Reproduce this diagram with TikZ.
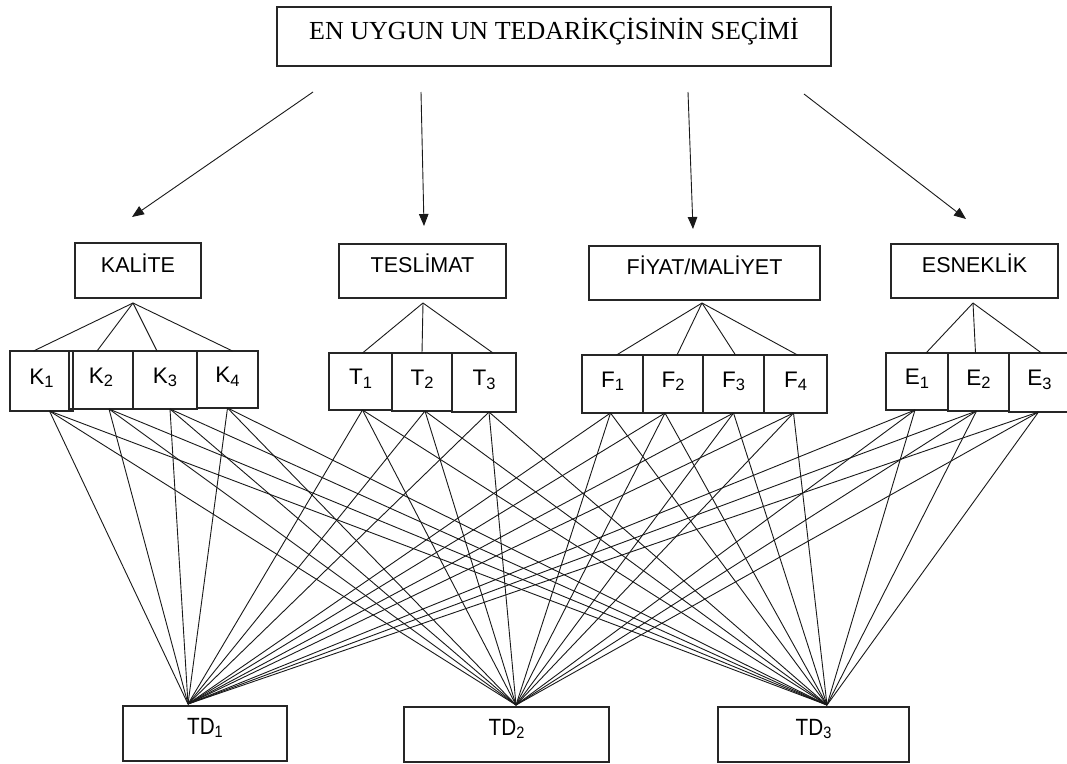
\documentclass[tikz,border=0pt]{standalone}
\usepackage{fontspec}
\setmainfont{Liberation Serif}
\setsansfont{Liberation Sans}
\newfontfamily\tdfont[FakeStretch=0.88]{Liberation Sans}
\usetikzlibrary{arrows.meta}
\newcommand\sbs[1]{\raisebox{-3.5pt}{\fontsize{16.5}{16.5}\selectfont #1}}
\begin{document}
\begin{tikzpicture}[x=1pt,y=-1pt,
 every node/.style={inner sep=0pt, outer sep=0pt},
 boxline/.style={draw=black!85, line width=1.1pt},
 topbox/.style={boxline, font=\rmfamily\fontsize{26}{26}\selectfont, text height=17.2pt, text depth=11pt},
 critbox/.style={boxline, font=\sffamily\fontsize{21.5}{21.5}\selectfont, text height=15.4pt, text depth=12pt, minimum height=54pt},
 subbox/.style={boxline, font=\sffamily\fontsize{22.5}{22.5}\selectfont, text height=16pt, text depth=10pt},
 tdbox/.style={boxline, font=\tdfont\fontsize{23.5}{23.5}\selectfont, text height=16.8pt, text depth=15pt, minimum height=55pt},
 conn/.style={draw=black!90, line width=0.9pt},
 arr/.style={conn, -{Triangle[length=12pt,width=9.5pt]}},
]
\fill[white] (0,0) rectangle (1067,763);
\useasboundingbox (0,0) rectangle (1067,763);

% top
\node[topbox, minimum width=554pt, minimum height=59pt] (top) at (554,36.5) {EN UYGUN UN TEDARİKÇİSİNİN SEÇİMİ};

% criteria
\node[critbox, minimum width=126pt, minimum height=55pt] (kal) at (138,270.5) {KALİTE};
\node[critbox, minimum width=167pt] (tes) at (422.5,271) {TESLİMAT};
\node[critbox, minimum width=231pt] (fiy) at (704.5,273) {FİYAT/MALİYET};
\node[critbox, minimum width=167pt] (esn) at (974.5,271) {ESNEKLİK};

% arrows
\coordinate (a1s) at (313,92);  \coordinate (a1e) at (132,217);
\coordinate (a2s) at (421,92);  \coordinate (a2e) at (424,226);
\coordinate (a3s) at (688,92);  \coordinate (a3e) at (693,229);
\coordinate (a4s) at (804,94);  \coordinate (a4e) at (966,219);
\draw[arr] (a1s) -- (a1e);
\draw[arr] (a2s) -- (a2e);
\draw[arr] (a3s) -- (a3e);
\draw[arr] (a4s) -- (a4e);

% sub boxes
\node[subbox, minimum width=63pt, minimum height=60pt] (k1) at (41.5,381) {K\sbs{1}};
\node[subbox, minimum width=64pt, minimum height=58pt] (k2) at (101,380) {K\sbs{2}};
\node[subbox, minimum width=64pt, minimum height=58pt] (k3) at (165,380) {K\sbs{3}};
\node[subbox, minimum width=61pt, minimum height=57pt] (k4) at (227.5,379.5) {K\sbs{4}};

\node[subbox, minimum width=63pt, minimum height=57pt] (t1) at (360.5,381.5) {T\sbs{1}};
\node[subbox, minimum width=60pt, minimum height=58pt] (t2) at (422,382) {T\sbs{2}};
\node[subbox, minimum width=64pt, minimum height=59pt] (t3) at (484,382.5) {T\sbs{3}};

\node[subbox, minimum width=61pt, minimum height=58pt] (f1) at (612.5,384) {F\sbs{1}};
\node[subbox, minimum width=60pt, minimum height=58pt] (f2) at (673,384) {F\sbs{2}};
\node[subbox, minimum width=61pt, minimum height=58pt] (f3) at (733.5,384) {F\sbs{3}};
\node[subbox, minimum width=63pt, minimum height=58pt] (f4) at (795.5,384) {F\sbs{4}};

\node[subbox, minimum width=62pt, minimum height=57pt] (e1) at (917,381.5) {E\sbs{1}};
\node[subbox, minimum width=61pt, minimum height=58pt] (e2) at (978.5,382) {E\sbs{2}};
\node[subbox, minimum width=61pt, minimum height=59pt] (e3) at (1039.5,382.5) {E\sbs{3}};

% tree apexes
\coordinate (kap) at (133,303);
\coordinate (tap) at (423,303);
\coordinate (fap) at (702,303);
\coordinate (eap) at (973,303);
\draw[conn] (kap) -- ([xshift=-8pt]k1.north);
\draw[conn] (kap) -- ([xshift=-4pt]k2.north);
\draw[conn] (kap) -- ([xshift=-8pt]k3.north);
\draw[conn] (kap) -- ([xshift=5pt]k4.north);
\draw[conn] (tap) -- ([xshift=2pt]t1.north);
\draw[conn] (tap) -- (t2.north);
\draw[conn] (tap) -- ([xshift=9pt]t3.north);
\draw[conn] (fap) -- ([xshift=4pt]f1.north);
\draw[conn] (fap) -- ([xshift=4pt]f2.north);
\draw[conn] (fap) -- ([xshift=2pt]f3.north);
\draw[conn] (fap) -- ([xshift=2pt]f4.north);
\draw[conn] (eap) -- ([xshift=9pt]e1.north);
\draw[conn] (eap) -- ([xshift=-3pt]e2.north);
\draw[conn] (eap) -- ([xshift=2pt]e3.north);

% alternatives
\node[tdbox, minimum width=164pt] (td1) at (205,733.5) {TD\sbs{1}};
\node[tdbox, minimum width=205pt] (td2) at (506.5,734.5) {TD\sbs{2}};
\node[tdbox, minimum width=191pt] (td3) at (813.5,734.5) {TD\sbs{3}};
\coordinate (td1a) at (188,704);
\coordinate (td2a) at (516,705);
\coordinate (td3a) at (827,705);

% origins on sub boxes
\coordinate (k1o) at ([xshift=8pt]k1.south);
\coordinate (k2o) at ([xshift=8pt]k2.south);
\coordinate (k3o) at ([xshift=5pt]k3.south);
\coordinate (k4o) at (k4.south);
\coordinate (t1o) at ([xshift=2pt]t1.south);
\coordinate (t2o) at ([xshift=3pt]t2.south);
\coordinate (t3o) at ([xshift=5pt]t3.south);
\coordinate (f1o) at ([xshift=-2pt]f1.south);
\coordinate (f2o) at ([xshift=-8pt]f2.south);
\coordinate (f3o) at (f3.south);
\coordinate (f4o) at ([xshift=-2pt]f4.south);
\coordinate (e1o) at ([xshift=-2pt]e1.south);
\coordinate (e2o) at ([xshift=-2pt]e2.south);
\coordinate (e3o) at ([xshift=-1pt]e3.south);

\foreach \s in {k1,k2,k3,k4,t1,t2,t3,f1,f2,f3,f4,e1,e2,e3}{
  \foreach \t in {td1a,td2a,td3a}{
    \draw[conn] (\s o) -- (\t);
  }
}
\end{tikzpicture}
\end{document}
